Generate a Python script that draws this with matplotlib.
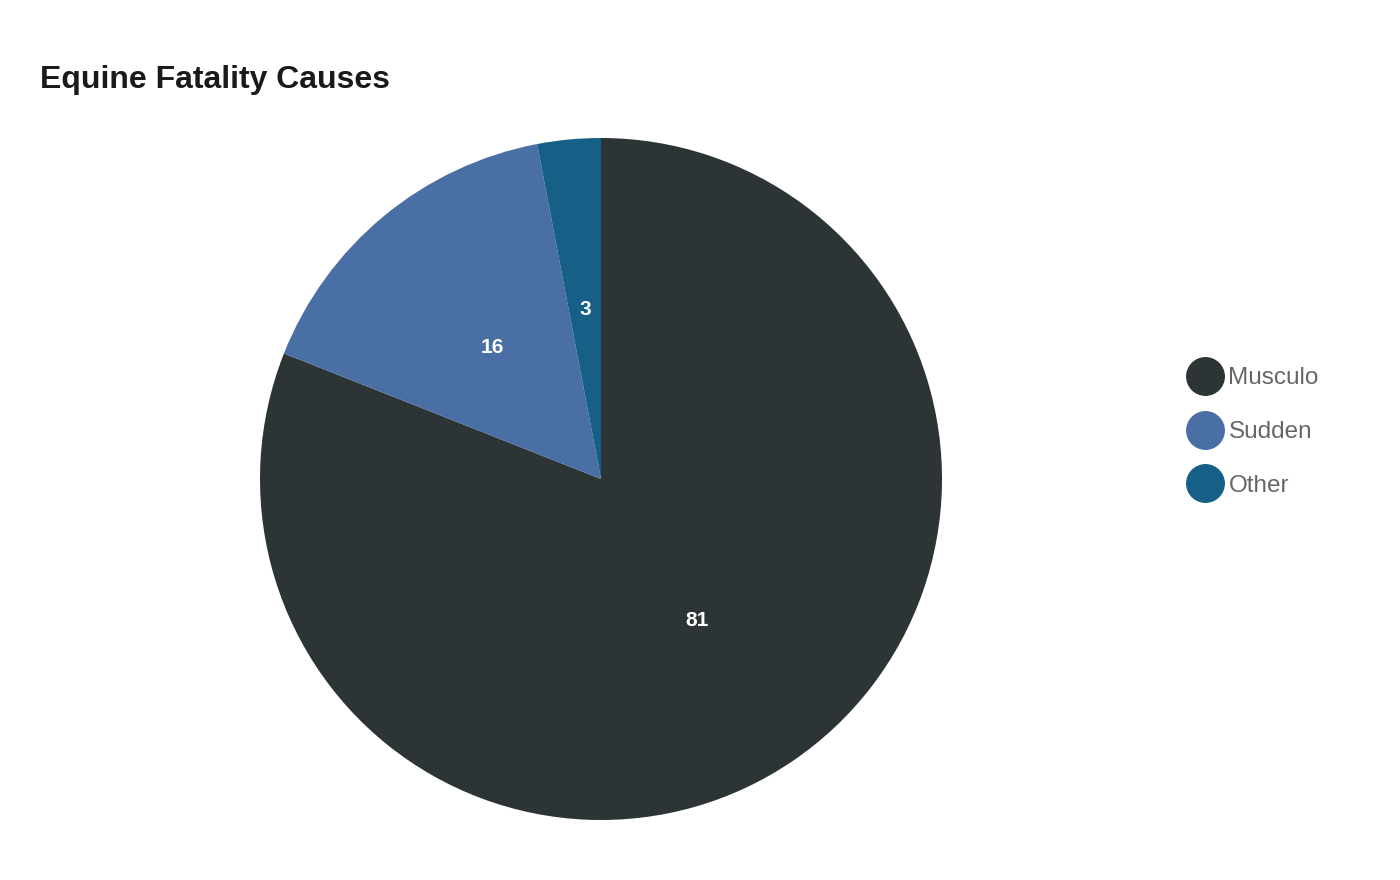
import matplotlib
matplotlib.use("Agg")
import matplotlib.pyplot as plt
from matplotlib.lines import Line2D

categories = ["Musculo", "Sudden", "Other"]
values = [81, 16, 3]
colors = ["#2d3436", "#4a6fa5", "#166088"]

plt.rcParams['font.family'] = ['Liberation Sans', 'DejaVu Sans']

fig = plt.figure(figsize=(14, 8.8), dpi=100)
W, H = 1400, 880
cx, cy, r = 601, 479, 341
ax = fig.add_axes([(cx - r) / W, (H - cy - r) / H, 2 * r / W, 2 * r / H])
wedges, texts = ax.pie(values, colors=colors, startangle=90, counterclock=False,
                       labels=[str(v) for v in values], labeldistance=0.5,
                       radius=1.0, wedgeprops=dict(linewidth=0))
for t in texts:
    t.set_color("white")
    t.set_fontweight("bold")
    t.set_fontsize(15)
    t.set_ha("center")
    t.set_va("center")
ax.set_xlim(-1, 1)
ax.set_ylim(-1, 1)
ax.set_aspect("equal")
ax.axis("off")

fig.text(40 / W, 1 - 80 / H, "Equine Fatality Causes", fontsize=23, fontweight="bold",
         color="#1a1a1a", ha="left", va="center")

handles = [Line2D([0], [0], marker="o", linestyle="none", markersize=27,
                  markerfacecolor=c, markeredgecolor=c) for c in colors]
leg = fig.legend(handles, categories, loc="center left",
                 bbox_to_anchor=(1173 / W, 1 - 432 / H), frameon=False,
                 fontsize=17.5, handletextpad=0.18, labelspacing=1.3,
                 handlelength=1.6, borderpad=0)
for t in leg.get_texts():
    t.set_color("#666666")

fig.savefig("out.png", dpi=100, facecolor="white")
